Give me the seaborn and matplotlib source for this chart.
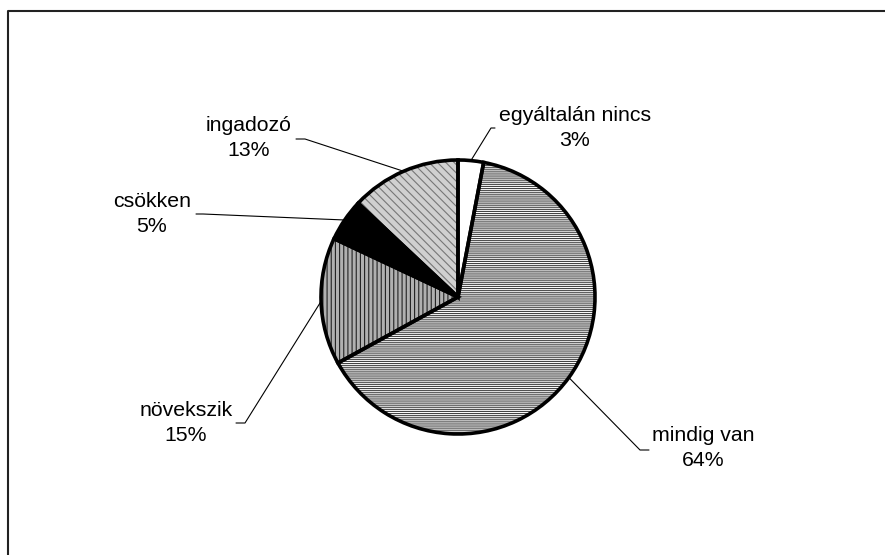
import numpy as np
import matplotlib
matplotlib.use('Agg')
import matplotlib.pyplot as plt
import seaborn as sns

categories = ['egyáltalán nincs', 'mindig van', 'növekszik', 'csökken', 'ingadozó']
shares = [3, 64, 15, 5, 13]

sns.set_theme(style='white')
plt.rcParams['font.family'] = ['Liberation Sans', 'DejaVu Sans']
plt.rcParams['hatch.linewidth'] = 0.8

fig = plt.figure(figsize=(8.85, 5.55), dpi=100)
ax = fig.add_axes([0, 0, 1, 1])

H = 555
center = (458, H - 297)
radius = 137

faces = ['white', 'white', '#b0b0b0', 'black', '#d0d0d0']
hatches = [None, '--------', '||||', None, '\\\\\\\\']
hatch_cols = ['white', '#444444', '#222222', 'black', '#777777']

# hatched fill first, then the black outlines on top
wedges, _ = ax.pie(shares, startangle=90, counterclock=False,
                   center=center, radius=radius)
for w, fc, hc, hcol in zip(wedges, faces, hatches, hatch_cols):
    w.set_facecolor(fc)
    w.set_edgecolor(hcol)
    w.set_linewidth(0)
    if hc:
        w.set_hatch(hc)

outline, _ = ax.pie(shares, startangle=90, counterclock=False,
                    center=center, radius=radius,
                    wedgeprops=dict(facecolor='none', edgecolor='black', linewidth=2.6))

# label blocks and leader line elbows (image pixel coords)
label_xy = [(575, 128), (703, 448), (186, 423), (152, 214), (249, 138)]
elbows = [((491, 128), (495, 128)), ((640, 450), (649, 450)),
          ((245, 423), (236, 423)), ((203, 214), (196, 214)),
          ((305, 139), (296, 139))]

for w, cat, val, (lx, ly), (el, en) in zip(outline, categories, shares, label_xy, elbows):
    ang = np.deg2rad((w.theta1 + w.theta2) / 2)
    ex = center[0] + radius * np.cos(ang)
    ey = center[1] + radius * np.sin(ang)
    ax.plot([ex, el[0], en[0]], [ey, H - el[1], H - en[1]], color='black', lw=0.8)
    ax.text(lx, H - ly, f'{cat}\n{val}%', ha='center', va='center',
            fontsize=15.3, linespacing=1.35, color='black')

# frame of the chart area
ax.plot([8, 8, 885], [0, H - 11, H - 11], color='#222222', lw=1.5)

ax.set_xlim(0, 885)
ax.set_ylim(0, H)
ax.set_aspect('auto')
ax.axis('off')

fig.savefig('out.png', dpi=100)
